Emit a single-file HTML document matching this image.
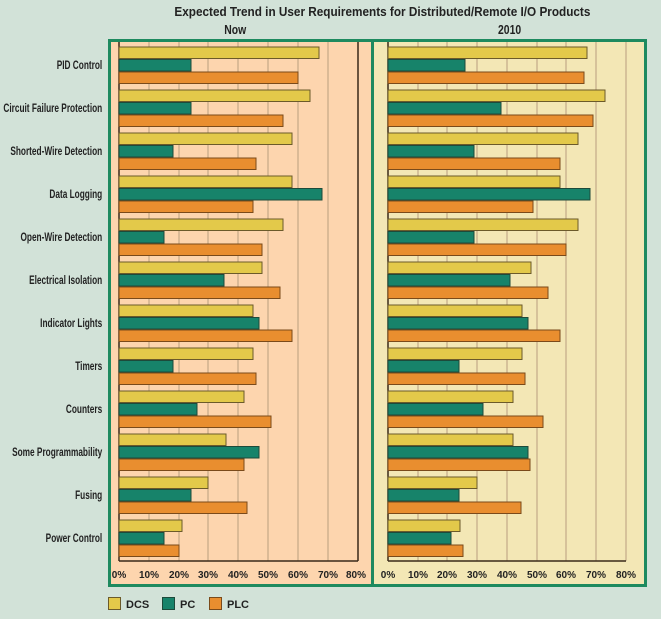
<!DOCTYPE html>
<html><head><meta charset="utf-8"><style>
html,body{margin:0;padding:0;background:#d2e2d8;}
svg{display:block;font-family:"Liberation Sans",sans-serif;}
.d{fill:#e3c94a;stroke:#6b5a2a;stroke-width:1}
.p{fill:#17836a;stroke:#1d4a3a;stroke-width:1}
.o{fill:#e98e2f;stroke:#7a4a1a;stroke-width:1}
.lab{font-size:11.5px;font-weight:bold;fill:#222;text-anchor:end}
.tk{font-size:10px;font-weight:bold;fill:#222;text-anchor:middle}
.g{stroke:#b99e7e;stroke-width:1}
</style></head><body>
<svg width="661" height="619" viewBox="0 0 661 619" xmlns="http://www.w3.org/2000/svg">
<rect width="661" height="619" fill="#d2e2d8"/>
<g transform="scale(0.8 1)">
<text x="478" y="16" style="font-size:13px;font-weight:bold;fill:#222" text-anchor="middle" textLength="520" lengthAdjust="spacingAndGlyphs">Expected Trend in User Requirements for Distributed/Remote I/O Products</text>
<text x="294" y="34" style="font-size:13px;font-weight:bold;fill:#222" text-anchor="middle">Now</text>
<text x="637" y="34" style="font-size:13px;font-weight:bold;fill:#222" text-anchor="middle">2010</text>
</g>
<rect x="109.5" y="40.5" width="263" height="545" fill="#fdd5ae" stroke="#1e8a5f" stroke-width="3"/>
<rect x="372.5" y="40.5" width="273" height="545" fill="#f3e7b5" stroke="#1e8a5f" stroke-width="3"/>
<g class="g">
<line x1="149" y1="42" x2="149" y2="561"/><line x1="179" y1="42" x2="179" y2="561"/><line x1="208" y1="42" x2="208" y2="561"/><line x1="238" y1="42" x2="238" y2="561"/><line x1="268" y1="42" x2="268" y2="561"/><line x1="298" y1="42" x2="298" y2="561"/><line x1="328" y1="42" x2="328" y2="561"/>
<line x1="418" y1="42" x2="418" y2="561"/><line x1="447" y1="42" x2="447" y2="561"/><line x1="477" y1="42" x2="477" y2="561"/><line x1="507" y1="42" x2="507" y2="561"/><line x1="537" y1="42" x2="537" y2="561"/><line x1="566" y1="42" x2="566" y2="561"/><line x1="596" y1="42" x2="596" y2="561"/><line x1="626" y1="42" x2="626" y2="561"/>
</g>
<g stroke="#3a2a1a" stroke-width="1.5">
<line x1="119" y1="42" x2="119" y2="561"/><line x1="358" y1="42" x2="358" y2="561"/><line x1="119" y1="561" x2="358" y2="561"/>
<line x1="388" y1="42" x2="388" y2="561"/><line x1="388" y1="561" x2="626" y2="561"/>
</g>
<g transform="scale(0.72 1)" class="lab">
<text x="142" y="69">PID Control</text>
<text x="142" y="112">Circuit Failure Protection</text>
<text x="142" y="155">Shorted-Wire Detection</text>
<text x="142" y="198">Data Logging</text>
<text x="142" y="241">Open-Wire Detection</text>
<text x="142" y="284">Electrical Isolation</text>
<text x="142" y="327">Indicator Lights</text>
<text x="142" y="370">Timers</text>
<text x="142" y="413">Counters</text>
<text x="142" y="456">Some Programmability</text>
<text x="142" y="499">Fusing</text>
<text x="142" y="542">Power Control</text>
</g>
<g>
<rect class="d" x="119" y="47" width="200" height="11.5"/><rect class="p" x="119" y="59.5" width="72" height="11.5"/><rect class="o" x="119" y="72" width="179" height="11.5"/>
<rect class="d" x="119" y="90" width="191" height="11.5"/><rect class="p" x="119" y="102.5" width="72" height="11.5"/><rect class="o" x="119" y="115" width="164" height="11.5"/>
<rect class="d" x="119" y="133" width="173" height="11.5"/><rect class="p" x="119" y="145.5" width="54" height="11.5"/><rect class="o" x="119" y="158" width="137" height="11.5"/>
<rect class="d" x="119" y="176" width="173" height="11.5"/><rect class="p" x="119" y="188.5" width="203" height="11.5"/><rect class="o" x="119" y="201" width="134" height="11.5"/>
<rect class="d" x="119" y="219" width="164" height="11.5"/><rect class="p" x="119" y="231.5" width="45" height="11.5"/><rect class="o" x="119" y="244" width="143" height="11.5"/>
<rect class="d" x="119" y="262" width="143" height="11.5"/><rect class="p" x="119" y="274.5" width="105" height="11.5"/><rect class="o" x="119" y="287" width="161" height="11.5"/>
<rect class="d" x="119" y="305" width="134" height="11.5"/><rect class="p" x="119" y="317.5" width="140" height="11.5"/><rect class="o" x="119" y="330" width="173" height="11.5"/>
<rect class="d" x="119" y="348" width="134" height="11.5"/><rect class="p" x="119" y="360.5" width="54" height="11.5"/><rect class="o" x="119" y="373" width="137" height="11.5"/>
<rect class="d" x="119" y="391" width="125" height="11.5"/><rect class="p" x="119" y="403.5" width="78" height="11.5"/><rect class="o" x="119" y="416" width="152" height="11.5"/>
<rect class="d" x="119" y="434" width="107" height="11.5"/><rect class="p" x="119" y="446.5" width="140" height="11.5"/><rect class="o" x="119" y="459" width="125" height="11.5"/>
<rect class="d" x="119" y="477" width="89" height="11.5"/><rect class="p" x="119" y="489.5" width="72" height="11.5"/><rect class="o" x="119" y="502" width="128" height="11.5"/>
<rect class="d" x="119" y="520" width="63" height="11.5"/><rect class="p" x="119" y="532.5" width="45" height="11.5"/><rect class="o" x="119" y="545" width="60" height="11.5"/>
</g>
<g>
<rect class="d" x="388" y="47" width="199" height="11.5"/><rect class="p" x="388" y="59.5" width="77" height="11.5"/><rect class="o" x="388" y="72" width="196" height="11.5"/>
<rect class="d" x="388" y="90" width="217" height="11.5"/><rect class="p" x="388" y="102.5" width="113" height="11.5"/><rect class="o" x="388" y="115" width="205" height="11.5"/>
<rect class="d" x="388" y="133" width="190" height="11.5"/><rect class="p" x="388" y="145.5" width="86" height="11.5"/><rect class="o" x="388" y="158" width="172" height="11.5"/>
<rect class="d" x="388" y="176" width="172" height="11.5"/><rect class="p" x="388" y="188.5" width="202" height="11.5"/><rect class="o" x="388" y="201" width="145" height="11.5"/>
<rect class="d" x="388" y="219" width="190" height="11.5"/><rect class="p" x="388" y="231.5" width="86" height="11.5"/><rect class="o" x="388" y="244" width="178" height="11.5"/>
<rect class="d" x="388" y="262" width="143" height="11.5"/><rect class="p" x="388" y="274.5" width="122" height="11.5"/><rect class="o" x="388" y="287" width="160" height="11.5"/>
<rect class="d" x="388" y="305" width="134" height="11.5"/><rect class="p" x="388" y="317.5" width="140" height="11.5"/><rect class="o" x="388" y="330" width="172" height="11.5"/>
<rect class="d" x="388" y="348" width="134" height="11.5"/><rect class="p" x="388" y="360.5" width="71" height="11.5"/><rect class="o" x="388" y="373" width="137" height="11.5"/>
<rect class="d" x="388" y="391" width="125" height="11.5"/><rect class="p" x="388" y="403.5" width="95" height="11.5"/><rect class="o" x="388" y="416" width="155" height="11.5"/>
<rect class="d" x="388" y="434" width="125" height="11.5"/><rect class="p" x="388" y="446.5" width="140" height="11.5"/><rect class="o" x="388" y="459" width="142" height="11.5"/>
<rect class="d" x="388" y="477" width="89" height="11.5"/><rect class="p" x="388" y="489.5" width="71" height="11.5"/><rect class="o" x="388" y="502" width="133" height="11.5"/>
<rect class="d" x="388" y="520" width="72" height="11.5"/><rect class="p" x="388" y="532.5" width="63" height="11.5"/><rect class="o" x="388" y="545" width="75" height="11.5"/>
</g>
<g class="tk">
<text x="119" y="578">0%</text><text x="149" y="578">10%</text><text x="179" y="578">20%</text><text x="208" y="578">30%</text><text x="238" y="578">40%</text><text x="268" y="578">50%</text><text x="298" y="578">60%</text><text x="328" y="578">70%</text><text x="356" y="578">80%</text>
<text x="388" y="578">0%</text><text x="418" y="578">10%</text><text x="447" y="578">20%</text><text x="477" y="578">30%</text><text x="507" y="578">40%</text><text x="537" y="578">50%</text><text x="566" y="578">60%</text><text x="596" y="578">70%</text><text x="626" y="578">80%</text>
</g>
<rect class="d" x="108.5" y="597.5" width="12" height="12"/>
<rect class="p" x="162.5" y="597.5" width="12" height="12"/>
<rect class="o" x="209.5" y="597.5" width="12" height="12"/>
<g style="font-size:11px;font-weight:bold;fill:#222">
<text x="126" y="608">DCS</text><text x="180" y="608">PC</text><text x="227" y="608">PLC</text>
</g>
</svg>
</body></html>
